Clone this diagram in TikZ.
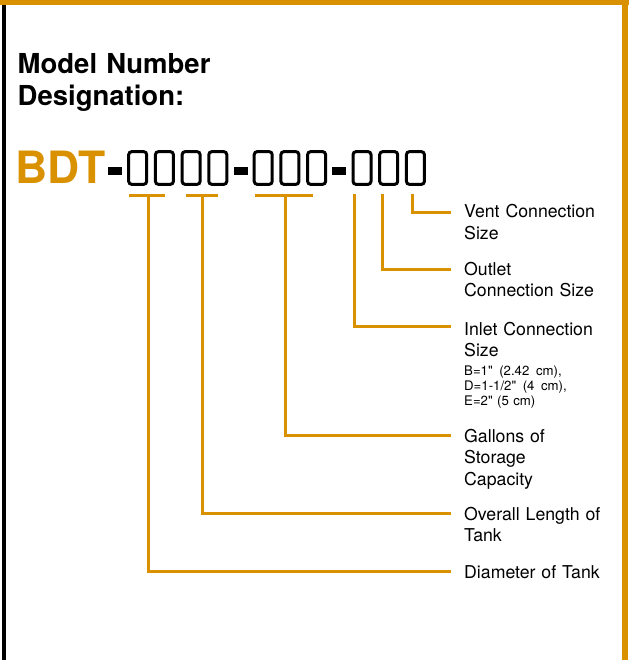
\documentclass[tikz,border=0pt]{standalone}
\usepackage{fontspec}
\setmainfont{TeX Gyre Heros}
\newfontfamily\notefont{TeX Gyre Heros}[Ligatures=TeXOff]
\usepackage{xcolor}
\usetikzlibrary{positioning}
\definecolor{tankorange}{RGB}{218,145,0}

\begin{document}
\begin{tikzpicture}[x=1pt, y=-1pt, node distance=5.7pt]
    % Définition des styles
    \tikzset{
        titre/.style   = {anchor=base west, inner sep=0, text width=220pt, align=left, font=\bfseries\fontsize{27.5}{32}\selectfont},
        code/.style    = {anchor=base west, inner sep=0, text=tankorange, font=\bfseries\fontsize{44.5}{44}\selectfont},
        digit/.style   = {rectangle, draw, line width=3pt, rounded corners=3pt, minimum width=18pt, minimum height=32.7pt, inner sep=0},
        hyph/.style    = {rectangle, fill=black, minimum width=14pt, minimum height=8.5pt, inner sep=0},
        legende/.style = {anchor=base west, inner sep=0, text width=152pt, align=left, font=\fontsize{17.7}{21.5}\selectfont},
        note/.style    = {anchor=base west, inner sep=0, text width=152pt, align=left, font=\notefont\fontsize{13.2}{15}\selectfont},
        lead/.style    = {draw=tankorange, line width=3pt}
    }
    \useasboundingbox (0,0) rectangle (629,660);

    % Cadre
    \fill [tankorange] (0,0) rectangle (629,5.5);
    \fill [tankorange] (621.7,0) rectangle (627.7,660);
    \fill [black] (2,5.5) rectangle (6,660);

    % Titre
    \node [titre] (titre) at (17.5,74) {Model Number\\Designation:};

    % Numéro de modèle
    \node [code] (bdt) at (15,184) {BDT};
    \node [hyph] (h1) at (115,171) {};
    \node [digit, right=5pt of h1, yshift=3pt] (b1) {};
    \node [digit, right=of b1] (b2) {};
    \node [digit, right=of b2] (b3) {};
    \node [digit, right=of b3] (b4) {};
    \node [hyph, right=5pt of b4, yshift=-3pt] (h2) {};
    \node [digit, right=5pt of h2, yshift=3pt] (b5) {};
    \node [digit, right=of b5] (b6) {};
    \node [digit, right=of b6] (b7) {};
    \node [hyph, right=5pt of b7, yshift=-3pt] (h3) {};
    \node [digit, right=5pt of h3, yshift=3pt] (b8) {};
    \node [digit, right=of b8] (b9) {};
    \node [digit, right=of b9] (b10) {};

    % Légendes
    \node [legende] (vent) at (464,218) {Vent Connection\\Size};
    \node [legende] (sortie) at (464,275) {Outlet\\Connection Size};
    \node [legende] (entree) at (464,335) {Inlet Connection\\Size};
    \node [note] (tailles) at (464,375) {B=1" \,(2.42 \,cm),\\D=1-1/2" \,(4 \,cm),\\E=2" (5 cm)};
    \node [legende] (gallons) at (464,442) {Gallons of\\Storage\\Capacity};
    \node [legende] (longueur) at (464,520) {Overall Length of\\Tank};
    \node [legende] (diam) at (464,578) {Diameter of Tank};

    % Départs des repères
    \coordinate (t1) at (148,196);
    \coordinate (t2) at (202,196);
    \coordinate (t3) at (285,196);
    \coordinate (t4) at (354,194);
    \coordinate (t5) at (382,194);
    \coordinate (t6) at (412,194);

    % Repères
    \path [lead] ([xshift=-19pt]t1) -- ([xshift=17pt]t1);
    \path [lead] ([xshift=-16pt]t2) -- ([xshift=16pt]t2);
    \path [lead] ([xshift=-30pt]t3) -- ([xshift=28pt]t3);
    \path [lead] (t1) |- ([xshift=-13pt, yshift=7pt]diam.base west);
    \path [lead] (t2) |- ([xshift=-13pt, yshift=7pt]longueur.base west);
    \path [lead] (t3) |- ([xshift=-13pt, yshift=7pt]gallons.base west);
    \path [lead] (t4) |- ([xshift=-13pt, yshift=9pt]entree.base west);
    \path [lead] (t5) |- ([xshift=-13pt, yshift=6pt]sortie.base west);
    \path [lead] (t6) |- ([xshift=-13pt, yshift=6pt]vent.base west);
\end{tikzpicture}
\end{document}
